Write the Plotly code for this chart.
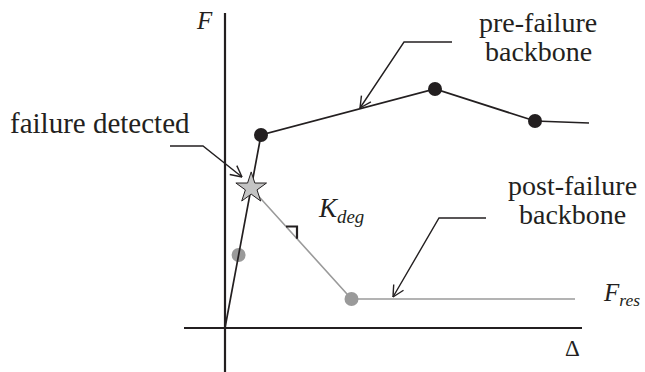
import numpy as np
import plotly.graph_objects as go

# Pre-failure backbone (deformation Δ, force F), schematic units
pre_delta = [0.0, 3.6, 21.0, 31.0, 36.4]
pre_force = [0.0, 19.3, 23.9, 20.7, 20.5]
pre_dot_idx = [1, 2, 3]

# Point where failure is detected (on the initial elastic branch)
fail_delta = 2.62
fail_force = 14.0

# Post-failure backbone: degrading branch down to the residual plateau
post_delta = [fail_delta, 12.65, 35.0]
post_force = [fail_force, 2.9, 2.9]

# Gray point on the elastic branch below the failure point
elastic_delta = [1.36]
elastic_force = [7.3]

# Coordinate axes extent
x_axis_span = [-4.1, 35.7]
y_axis_span = [-4.4, 31.5]

# Leader lines for the callouts (last point is the arrow tip)
leader_failure = ([-5.5, -2.2, 1.7], [18.2, 18.2, 15.1])
leader_pre = ([22.7, 17.9, 13.5], [28.6, 28.6, 22.0])
leader_post = ([26.1, 21.4, 16.8], [11.0, 11.0, 3.1])

# Text labels: (Δ, F, text, font size)
labels = [
    (-2.1, 30.8, "<i>F</i>", 25),
    (-12.5, 20.5, "failure detected", 29),
    (31.3, 30.6, "pre-failure", 28),
    (31.3, 27.7, "backbone", 28),
    (34.7, 14.3, "post-failure", 28),
    (34.7, 11.4, "backbone", 28),
    (11.6, 11.8, "<i>K</i><sub><i>deg</i></sub>", 27),
    (39.6, 3.4, "<i>F</i><sub><i>res</i></sub>", 25),
    (34.7, -2.0, "Δ", 23),
]

INK = "#231f20"
GRAY = "#9a9a9a"
FONT = "Liberation Serif"

fig = go.Figure()

# axes
fig.add_trace(go.Scatter(x=x_axis_span, y=[0, 0], mode="lines",
                         line=dict(color=INK, width=2.2), hoverinfo="skip"))
fig.add_trace(go.Scatter(x=[0, 0], y=y_axis_span, mode="lines",
                         line=dict(color=INK, width=2.2), hoverinfo="skip"))

# post-failure backbone (gray)
fig.add_trace(go.Scatter(x=post_delta, y=post_force, mode="lines",
                         line=dict(color=GRAY, width=1.6), hoverinfo="skip"))
fig.add_trace(go.Scatter(x=[post_delta[1]] + elastic_delta,
                         y=[post_force[1]] + elastic_force, mode="markers",
                         marker=dict(color=GRAY, size=14, line=dict(width=0)),
                         hoverinfo="skip"))

# pre-failure backbone (black)
fig.add_trace(go.Scatter(x=pre_delta, y=pre_force, mode="lines",
                         line=dict(color=INK, width=1.7), hoverinfo="skip"))
fig.add_trace(go.Scatter(x=[pre_delta[i] for i in pre_dot_idx],
                         y=[pre_force[i] for i in pre_dot_idx], mode="markers",
                         marker=dict(color=INK, size=14, line=dict(width=0)),
                         hoverinfo="skip"))

# failure star
fig.add_trace(go.Scatter(x=[fail_delta], y=[fail_force], mode="markers",
                         marker=dict(symbol="star", size=23, color="#c4c4c4",
                                     line=dict(color=INK, width=1)),
                         hoverinfo="skip"))

# slope marker on the degrading branch
slope = (post_force[1] - post_force[0]) / (post_delta[1] - post_delta[0])
m0 = 6.1
run = 1.1
y_m0 = post_force[0] + slope * (m0 - post_delta[0])
y_m1 = post_force[0] + slope * (m0 + run - post_delta[0])
fig.add_trace(go.Scatter(x=[m0, m0 + run, m0 + run], y=[y_m0, y_m0, y_m1],
                         mode="lines", line=dict(color=INK, width=2.2),
                         hoverinfo="skip"))


def leader(xs, ys, head_len=1.25, half_angle=27):
    fig.add_trace(go.Scatter(x=xs, y=ys, mode="lines",
                             line=dict(color=INK, width=1.4), hoverinfo="skip"))
    tx, ty = xs[-1], ys[-1]
    d = np.array([xs[-2] - tx, ys[-2] - ty])
    d = d / np.linalg.norm(d)
    hx, hy = [], []
    for sgn in (1, -1):
        a = np.radians(half_angle) * sgn
        r = np.array([d[0] * np.cos(a) - d[1] * np.sin(a),
                      d[0] * np.sin(a) + d[1] * np.cos(a)])
        hx += [tx + head_len * r[0], tx, None]
        hy += [ty + head_len * r[1], ty, None]
    fig.add_trace(go.Scatter(x=hx, y=hy, mode="lines",
                             line=dict(color=INK, width=1.4), hoverinfo="skip"))


for lx, ly in (leader_failure, leader_pre, leader_post):
    leader(lx, ly)

for lx, ly, txt, sz in labels:
    fig.add_annotation(x=lx, y=ly, xref="x", yref="y", text=txt,
                       showarrow=False,
                       font=dict(family=FONT, size=sz, color=INK))

fig.update_layout(
    width=645, height=372,
    margin=dict(l=0, r=0, t=0, b=0),
    paper_bgcolor="white", plot_bgcolor="white",
    showlegend=False,
    font=dict(family=FONT, color=INK),
    xaxis=dict(range=[-22.5, 42.0], visible=False, fixedrange=True),
    yaxis=dict(range=[-4.4, 32.8], visible=False, fixedrange=True),
)

fig.write_html("out.html")
